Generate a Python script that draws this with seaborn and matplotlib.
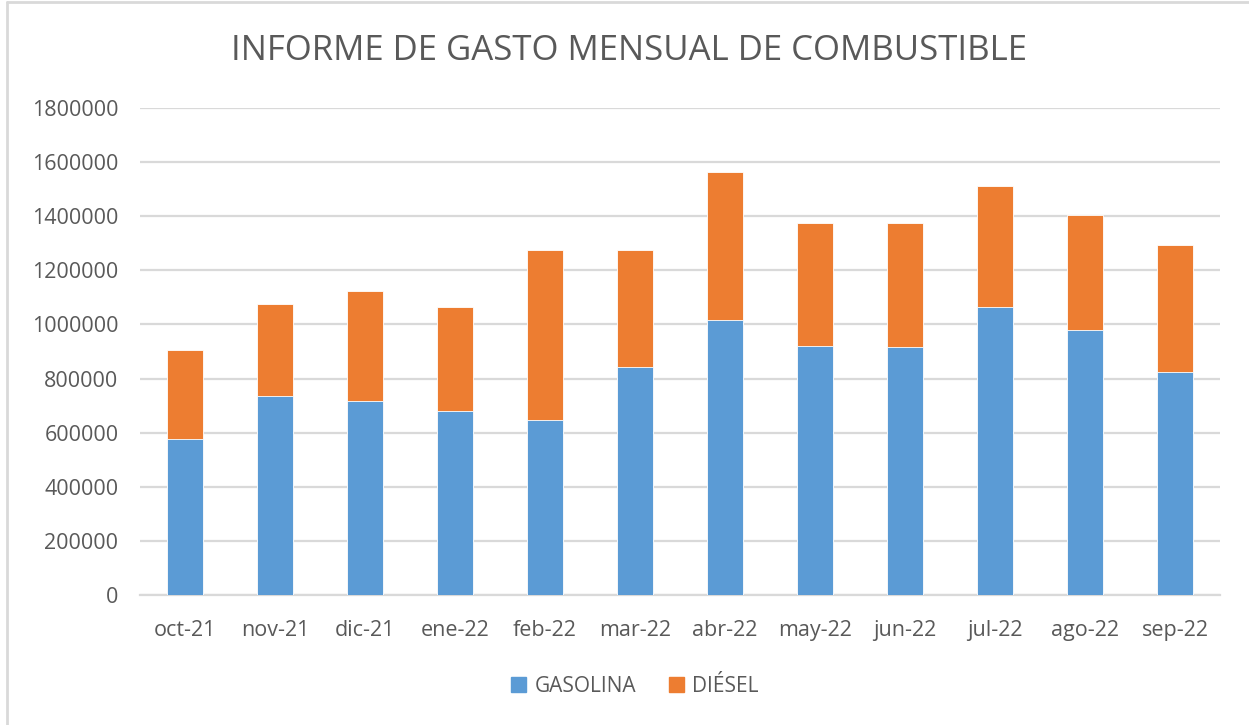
import matplotlib
matplotlib.use("Agg")
import matplotlib.pyplot as plt
import seaborn as sns
import pandas as pd
from matplotlib.patches import Patch
from matplotlib.lines import Line2D

months = ["oct-21", "nov-21", "dic-21", "ene-22", "feb-22", "mar-22",
          "abr-22", "may-22", "jun-22", "jul-22", "ago-22", "sep-22"]
gasolina = [575000, 737000, 717000, 680000, 645000, 841000,
            1015000, 922000, 917000, 1066000, 978000, 825000]
diesel = [330000, 338000, 408000, 385000, 630000, 434000,
          550000, 453000, 458000, 447000, 426000, 469000]
yticks = [0, 200000, 400000, 600000, 800000, 1000000, 1200000, 1400000, 1600000, 1800000]
title = "INFORME DE GASTO MENSUAL DE COMBUSTIBLE"
series_names = ["GASOLINA", "DIÉSEL"]

BLUE = "#5B9BD5"
ORANGE = "#ED7D31"
TXT = "#595959"
GRID = "#D9D9D9"

sns.set_theme(style="white")
plt.rcParams["font.family"] = ["Open Sans", "DejaVu Sans"]

df = pd.DataFrame({"mes": months, "gasolina": gasolina, "diesel": diesel})
df["total"] = df["gasolina"] + df["diesel"]

W, H = 1249, 725
fig = plt.figure(figsize=(W / 100, H / 100), dpi=100)
ax = fig.add_axes([140 / W, 1 - 595 / H, (1220 - 140) / W, (595 - 108) / H])

sns.barplot(data=df, x="mes", y="total", color=ORANGE, width=0.4, ax=ax,
            saturation=1, edgecolor="white", linewidth=0.6, zorder=3)
sns.barplot(data=df, x="mes", y="gasolina", color=BLUE, width=0.4, ax=ax,
            saturation=1, edgecolor="white", linewidth=0.6, zorder=3)

ax.set_ylim(0, 1800000)
ax.set_xlim(-0.5, len(months) - 0.5)
ax.set_yticks(yticks)
ax.set_yticklabels([str(v) for v in yticks])
ax.yaxis.grid(True, color=GRID, linewidth=1.6, zorder=0)
ax.set_axisbelow(True)
for s in ["top", "right", "left"]:
    ax.spines[s].set_visible(False)
ax.spines["bottom"].set_color(GRID)
ax.spines["bottom"].set_linewidth(1.6)
ax.set_xlabel("")
ax.set_ylabel("")
ax.tick_params(axis="both", length=0, labelsize=15.5, labelcolor=TXT)
ax.tick_params(axis="y", pad=15.5)
ax.tick_params(axis="x", pad=18)

fig.text(629 / W, 1 - 51 / H, title, ha="center", va="center",
         fontsize=25, color=TXT, fontweight="normal")

handles = [Patch(facecolor=BLUE, edgecolor=BLUE), Patch(facecolor=ORANGE, edgecolor=ORANGE)]
fig.legend(handles, series_names, loc="center", bbox_to_anchor=(635 / W, 1 - 686 / H),
           ncol=2, frameon=False, fontsize=15, labelcolor=TXT,
           handlelength=0.7, handleheight=0.7, handletextpad=0.4, columnspacing=1.6)

fig.add_artist(Line2D([7 / W, 7 / W], [0, 1 - 2 / H], transform=fig.transFigure,
                      color=GRID, linewidth=2))
fig.add_artist(Line2D([7 / W, 1], [1 - 2 / H, 1 - 2 / H], transform=fig.transFigure,
                      color=GRID, linewidth=2))

fig.savefig("out.png", dpi=100)
